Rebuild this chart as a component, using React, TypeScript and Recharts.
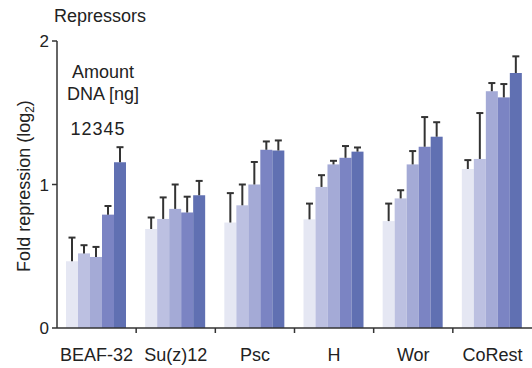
import { BarChart, Bar, XAxis, YAxis } from 'recharts';

const categories = ['BEAF-32', 'Su(z)12', 'Psc', 'H', 'Wor', 'CoRest'];

// fold repression (log2) per amount of DNA (1..5 ng)
const amount1 = [0.465, 0.69, 0.735, 0.757, 0.745, 1.108];
const amount2 = [0.52, 0.76, 0.855, 0.983, 0.903, 1.178];
const amount3 = [0.495, 0.83, 1.0, 1.14, 1.14, 1.65];
const amount4 = [0.79, 0.805, 1.242, 1.186, 1.263, 1.607];
const amount5 = [1.155, 0.925, 1.237, 1.229, 1.333, 1.777];

// upper error (s.d.)
const err1 = [0.165, 0.08, 0.205, 0.11, 0.122, 0.062];
const err2 = [0.057, 0.15, 0.145, 0.082, 0.057, 0.32];
const err3 = [0.07, 0.17, 0.157, 0.025, 0.093, 0.057];
const err4 = [0.06, 0.11, 0.058, 0.082, 0.207, 0.093];
const err5 = [0.105, 0.1, 0.07, 0.029, 0.101, 0.116];

const yTicks = [0, 1, 2];

const COLORS = ['#e5e7f3', '#bcc0e1', '#a4aad6', '#7b84c3', '#6070b2'];
const AXIS = '#333';
const TEXT = '#222';
const FONT = '"Liberation Sans", Arial, sans-serif';

const data = categories.map((name, i) => ({
  name,
  a1: amount1[i], a2: amount2[i], a3: amount3[i], a4: amount4[i], a5: amount5[i],
  e1: err1[i], e2: err2[i], e3: err3[i], e4: err4[i], e5: err5[i],
}));

// bar rect plus an upward-only error whisker with a cap
const barWithError = (errKey: string) => (props: any) => {
  const { x, y, width, height, fill, payload, value } = props;
  const v = Array.isArray(value) ? value[1] - value[0] : value;
  if (!v || height <= 0) return <g />;
  const perUnit = height / v;
  const base = y + height;
  const ey = base - (v + payload[errKey]) * perUnit;
  const cx = x + width / 2;
  return (
    <g>
      <rect x={x} y={y} width={width} height={height} fill={fill} />
      <line x1={cx} x2={cx} y1={y} y2={ey} stroke={AXIS} strokeWidth={2} />
      <line x1={cx - 3.5} x2={cx + 3.5} y1={ey} y2={ey} stroke={AXIS} strokeWidth={2} />
    </g>
  );
};

function CategoryTick(props: any) {
  const { x, y, payload, index } = props;
  const half = payload.offset ?? 39.5;
  return (
    <g>
      {index > 0 && (
        <line x1={x - half} x2={x - half} y1={y} y2={y + 5} stroke={AXIS} strokeWidth={1.5} />
      )}
      <text x={x} y={y + 33} textAnchor="middle" fontSize={18} fill={TEXT} fontFamily={FONT}>
        {payload.value}
      </text>
    </g>
  );
}

export default function App() {
  return (
    <div style={{ position: 'absolute', left: 0, top: 0, width: 532, height: 368, background: '#fff', fontFamily: FONT }}>
      <BarChart
        width={532}
        height={368}
        data={data}
        margin={{ top: 41, right: 0, left: 0, bottom: 0 }}
        barCategoryGap={9}
        barGap={0}
      >
        <XAxis
          dataKey="name"
          height={40}
          axisLine={{ stroke: AXIS, strokeWidth: 1.5 }}
          tickLine={false}
          tickSize={0}
          tickMargin={0}
          interval={0}
          tick={<CategoryTick />}
        />
        <YAxis
          width={57}
          domain={[0, 2]}
          ticks={yTicks}
          axisLine={{ stroke: AXIS, strokeWidth: 1.5 }}
          tickLine={{ stroke: AXIS, strokeWidth: 1.5 }}
          tickSize={5}
          tickMargin={3}
          tick={{ fill: TEXT, fontSize: 17, fontFamily: FONT }}
        />
        <Bar dataKey="a1" fill={COLORS[0]} shape={barWithError('e1')} isAnimationActive={false} />
        <Bar dataKey="a2" fill={COLORS[1]} shape={barWithError('e2')} isAnimationActive={false} />
        <Bar dataKey="a3" fill={COLORS[2]} shape={barWithError('e3')} isAnimationActive={false} />
        <Bar dataKey="a4" fill={COLORS[3]} shape={barWithError('e4')} isAnimationActive={false} />
        <Bar dataKey="a5" fill={COLORS[4]} shape={barWithError('e5')} isAnimationActive={false} />
      </BarChart>

      <svg
        width={532}
        height={368}
        style={{ position: 'absolute', left: 0, top: 0, pointerEvents: 'none' }}
        fontFamily={FONT}
        fill={TEXT}
      >
        <text x={54} y={22} fontSize={18}>Repressors</text>
        <text x={103} y={78} fontSize={18} textAnchor="middle">Amount</text>
        <text x={103} y={100} fontSize={18} textAnchor="middle">DNA [ng]</text>
        <text x={98} y={135} fontSize={18} textAnchor="middle" letterSpacing={1}>12345</text>
        <text transform="translate(30,186) rotate(-90)" fontSize={18} textAnchor="middle">
          Fold repression (log<tspan fontSize={12} dy={4}>2</tspan><tspan dy={-4}>)</tspan>
        </text>
      </svg>
    </div>
  );
}
